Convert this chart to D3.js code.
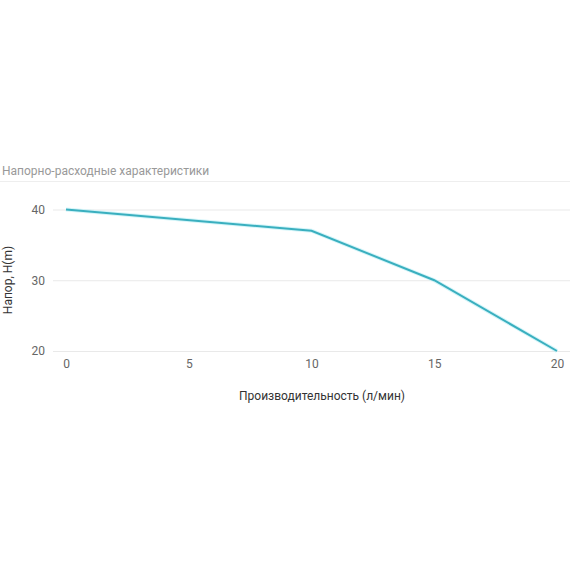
<!DOCTYPE html>
<html>
<head>
<meta charset="utf-8">
<script src="https://cdn.jsdelivr.net/npm/d3@7"></script>
<style>
  body { margin: 0; background: #fff; }
  text { font-family: Roboto, 'Noto Sans', sans-serif; }
</style>
</head>
<body>
<div id="chart"></div>
<script>
// data
let flow = [0, 10, 15, 20]
let head = [40, 37, 30, 20]
let xTicks = [0, 5, 10, 15, 20]
let yTicks = [20, 30, 40]

let title = 'Напорно-расходные характеристики'
let xTitle = 'Производительность (л/мин)'
let yTitle = 'Напор, H(m)'

let width = 570
let height = 570

let svg = d3
  .select('#chart')
  .append('svg')
  .attr('width', width)
  .attr('height', height)

let x = d3.scaleLinear().domain([0, 20]).range([66, 557])
let y = d3.scaleLinear().domain([20, 40]).range([351, 209.5])

// title + separator
svg
  .append('text')
  .attr('x', 2)
  .attr('y', 175)
  .attr('fill', '#999')
  .attr('font-size', 12)
  .text(title)

svg
  .append('line')
  .attr('x1', 0)
  .attr('x2', width)
  .attr('y1', 181.5)
  .attr('y2', 181.5)
  .attr('stroke', '#eee')

// grid + y ticks
let yAxis = svg
  .append('g')
  .attr('transform', 'translate(53,0)')
  .call(
    d3
      .axisLeft(y)
      .tickValues(yTicks)
      .tickSize(-(width - 53))
      .tickPadding(8)
  )
yAxis.select('.domain').remove()
yAxis.selectAll('line').attr('stroke', '#e9e9e9')
yAxis
  .selectAll('text')
  .attr('fill', '#666')
  .attr('font-size', 12)
  .attr('font-family', 'Roboto, sans-serif')

// x ticks
let xAxis = svg
  .append('g')
  .attr('transform', 'translate(0,351)')
  .call(d3.axisBottom(x).tickValues(xTicks).tickSize(0).tickPadding(8))
xAxis.select('.domain').remove()
xAxis
  .selectAll('text')
  .attr('fill', '#666')
  .attr('font-size', 12)
  .attr('font-family', 'Roboto, sans-serif')

// axis titles
svg
  .append('text')
  .attr('x', 322)
  .attr('y', 400)
  .attr('text-anchor', 'middle')
  .attr('fill', '#333')
  .attr('font-size', 12)
  .text(xTitle)

svg
  .append('text')
  .attr('transform', 'translate(12,280) rotate(-90)')
  .attr('text-anchor', 'middle')
  .attr('fill', '#333')
  .attr('font-size', 12)
  .text(yTitle)

// line
let points = flow.map((d, i) => [d, head[i]])
let line = d3
  .line()
  .x(d => x(d[0]))
  .y(d => y(d[1]))

svg
  .append('path')
  .datum(points)
  .attr('d', line)
  .attr('fill', 'none')
  .attr('stroke', '#b8eef5')
  .attr('stroke-width', 4)
  .attr('opacity', 0.6)

svg
  .append('path')
  .datum(points)
  .attr('d', line)
  .attr('fill', 'none')
  .attr('stroke', '#3aafbf')
  .attr('stroke-width', 2)
</script>
</body>
</html>
